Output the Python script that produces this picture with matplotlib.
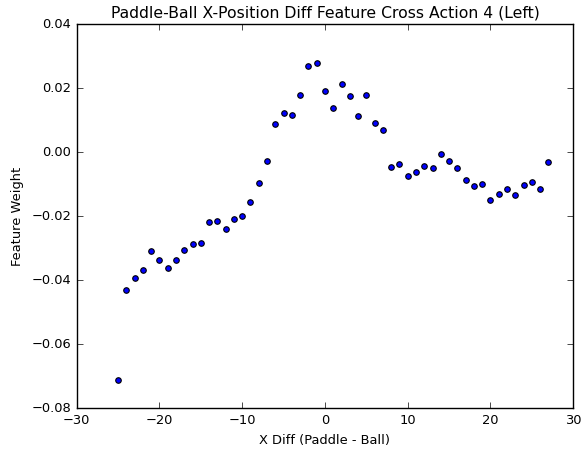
import matplotlib
matplotlib.use("Agg")
import matplotlib.pyplot as plt

# x diff values (paddle - ball)
x_diff = list(range(-25, 28))

# feature weights
weights = [
    -0.0710, -0.0429, -0.0392, -0.0367, -0.0308, -0.0336, -0.0361, -0.0336,
    -0.0305, -0.0286, -0.0283, -0.0217, -0.0214, -0.0239, -0.0208, -0.0199,
    -0.0155, -0.0096, -0.0027, 0.0088, 0.0123, 0.0116, 0.0179, 0.0269,
    0.0278, 0.0191, 0.0138, 0.0213, 0.0176, 0.0113, 0.0179, 0.0091,
    0.0069, -0.0046, -0.0036, -0.0074, -0.0061, -0.0043, -0.0049, -0.0005,
    -0.0027, -0.0049, -0.0086, -0.0105, -0.0099, -0.0149, -0.0130, -0.0114,
    -0.0133, -0.0102, -0.0093, -0.0114, -0.0030,
]

plt.style.use("classic")
plt.rcParams["font.size"] = 9.36
fig = plt.figure(figsize=(5.84, 4.49), dpi=100)
ax = fig.add_axes([0.1313, 0.0906, 0.8503, 0.8552])

ax.scatter(x_diff, weights, c="b", s=16, linewidths=0.8)
ax.set_xlim(-30, 30)
ax.set_ylim(-0.08, 0.04)
ax.set_xlabel("X Diff (Paddle - Ball)")
ax.set_ylabel("Feature Weight")
ax.set_title("Paddle-Ball X-Position Diff Feature Cross Action 4 (Left)")

fig.savefig("out.png", dpi=100)
